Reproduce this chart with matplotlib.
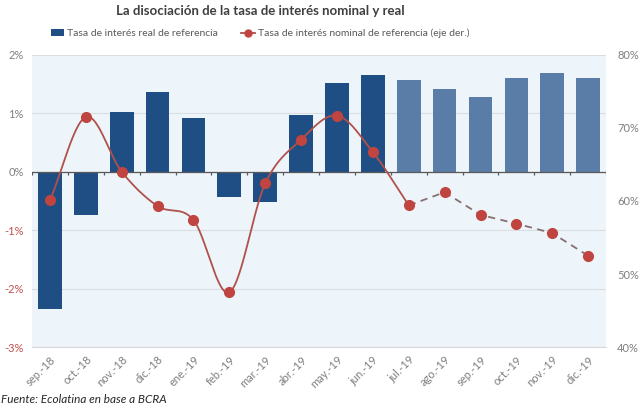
import numpy as np
import matplotlib
matplotlib.use("Agg")
import matplotlib.pyplot as plt
from matplotlib.lines import Line2D
from matplotlib.patches import Patch

plt.rcParams['font.family'] = ['Lato', 'DejaVu Sans']

# data
meses = ['sep.-18', 'oct.-18', 'nov.-18', 'dic.-18', 'ene.-19', 'feb.-19', 'mar.-19', 'abr.-19',
         'may.-19', 'jun.-19', 'jul.-19', 'ago.-19', 'sep.-19', 'oct.-19', 'nov.-19', 'dic.-19']
tasa_real = [-2.35, -0.74, 1.03, 1.36, 0.92, -0.44, -0.52, 0.97,
             1.52, 1.66, 1.57, 1.42, 1.28, 1.61, 1.69, 1.61]
tasa_nominal = [60.1, 71.5, 64.0, 59.3, 57.4, 47.5, 62.4, 68.4,
                71.7, 66.7, 59.4, 61.2, 58.1, 56.9, 55.6, 52.5]
n_barras_obs = 10   # sep-18 .. jun-19 dark bars
n_linea_obs = 11    # solid line up to jul-19

navy = '#1F4E84'
steel = '#5A7DA8'
red_line = '#B0514C'
red_dot = '#C0443F'
gray = '#7F7F7F'


def catmull_rom(x, y, steps=30):
    # smooth curve like Excel's "smoothed line"
    x = np.asarray(x, float)
    y = np.asarray(y, float)
    px = np.concatenate([[2 * x[0] - x[1]], x, [2 * x[-1] - x[-2]]])
    py = np.concatenate([[2 * y[0] - y[1]], y, [2 * y[-1] - y[-2]]])
    xs, ys = [], []
    t = np.linspace(0, 1, steps)
    for i in range(1, len(px) - 2):
        b0 = (px[i], py[i])
        b1 = (px[i] + (px[i + 1] - px[i - 1]) / 6, py[i] + (py[i + 1] - py[i - 1]) / 6)
        b2 = (px[i + 1] - (px[i + 2] - px[i]) / 6, py[i + 1] - (py[i + 2] - py[i]) / 6)
        b3 = (px[i + 1], py[i + 1])
        for k in range(2):
            c = ((1 - t) ** 3 * b0[k] + 3 * (1 - t) ** 2 * t * b1[k]
                 + 3 * (1 - t) * t ** 2 * b2[k] + t ** 3 * b3[k])
            (xs if k == 0 else ys).append(c)
    return np.concatenate(xs), np.concatenate(ys)


fig = plt.figure(figsize=(6.4, 4.07), dpi=100)
ax = fig.add_axes([0.05, 0.1474, 0.897, 0.7175])
ax.set_facecolor('#EDF4FA')

x = np.arange(len(meses))
colors = [navy if i < n_barras_obs else steel for i in range(len(meses))]
ax.bar(x, tasa_real, width=0.66, color=colors, zorder=3)

ax.set_xlim(-0.5, len(meses) - 0.5)
ax.set_ylim(-3, 2)
ax.set_yticks([-3, -2, -1, 0, 1, 2])
ax.set_yticklabels(['-3%', '-2%', '-1%', '0%', '1%', '2%'])
for lab, v in zip(ax.get_yticklabels(), [-3, -2, -1, 0, 1, 2]):
    lab.set_color('#C0504D' if v < 0 else gray)
ax.tick_params(axis='y', length=0, labelsize=8, pad=6)
ax.grid(axis='y', color='#D9DEE3', linewidth=0.8, zorder=0)
for s in ['top', 'right', 'left']:
    ax.spines[s].set_visible(False)
ax.spines['bottom'].set_color('#D9D9D9')

ax.set_xticks(x)
ax.set_xticklabels(meses, rotation=45, ha='right', rotation_mode='anchor')
ax.tick_params(axis='x', length=0, labelsize=8, labelcolor=gray, pad=5)

# axis line at 0 with boundary ticks
ax.axhline(0, color='#595959', linewidth=0.9, zorder=4)
ax.vlines(np.arange(len(meses) + 1) - 0.5, -0.06, 0, color='#595959', linewidth=0.9, zorder=4)

ax2 = ax.twinx()
ax2.set_ylim(40, 80)
ax2.set_yticks([40, 50, 60, 70, 80])
ax2.set_yticklabels(['40%', '50%', '60%', '70%', '80%'])
ax2.tick_params(axis='y', length=0, labelsize=8, labelcolor=gray, pad=8)
for s in ax2.spines.values():
    s.set_visible(False)

sx, sy = catmull_rom(x[:n_linea_obs], tasa_nominal[:n_linea_obs])
ax2.plot(sx, sy, color=red_line, linewidth=1.3, zorder=5)
ax2.plot(x[n_linea_obs - 1:], tasa_nominal[n_linea_obs - 1:], color='#86706F',
         linewidth=1.3, linestyle=(0, (4, 3)), zorder=5)
ax2.plot(x, tasa_nominal, linestyle='none', marker='o', markersize=7,
         color=red_dot, zorder=6)

fig.text(0.406, 0.972, 'La disociación de la tasa de interés nominal y real',
         ha='center', va='center', fontsize=9.5, fontweight='bold', color='#404040')

handles = [Patch(facecolor=navy, edgecolor='none'),
           Line2D([0], [0], color=red_line, marker='o', markersize=5,
                  markerfacecolor=red_dot, markeredgecolor=red_dot, linewidth=1.3)]
fig.legend(handles, ['Tasa de interés real de referencia',
                     'Tasa de interés nominal de referencia (eje der.)'],
           loc='center', bbox_to_anchor=(0.406, 0.918), ncol=2, frameon=False,
           fontsize=7.5, labelcolor='#595959', handlelength=1.3, handletextpad=0.3,
           columnspacing=2.2, handleheight=0.6)

fig.text(0.002, 0.018, 'Fuente: Ecolatina en base a BCRA', ha='left', va='center',
         fontsize=8.5, style='italic', color='#262626')

fig.savefig('out.png', dpi=100)
